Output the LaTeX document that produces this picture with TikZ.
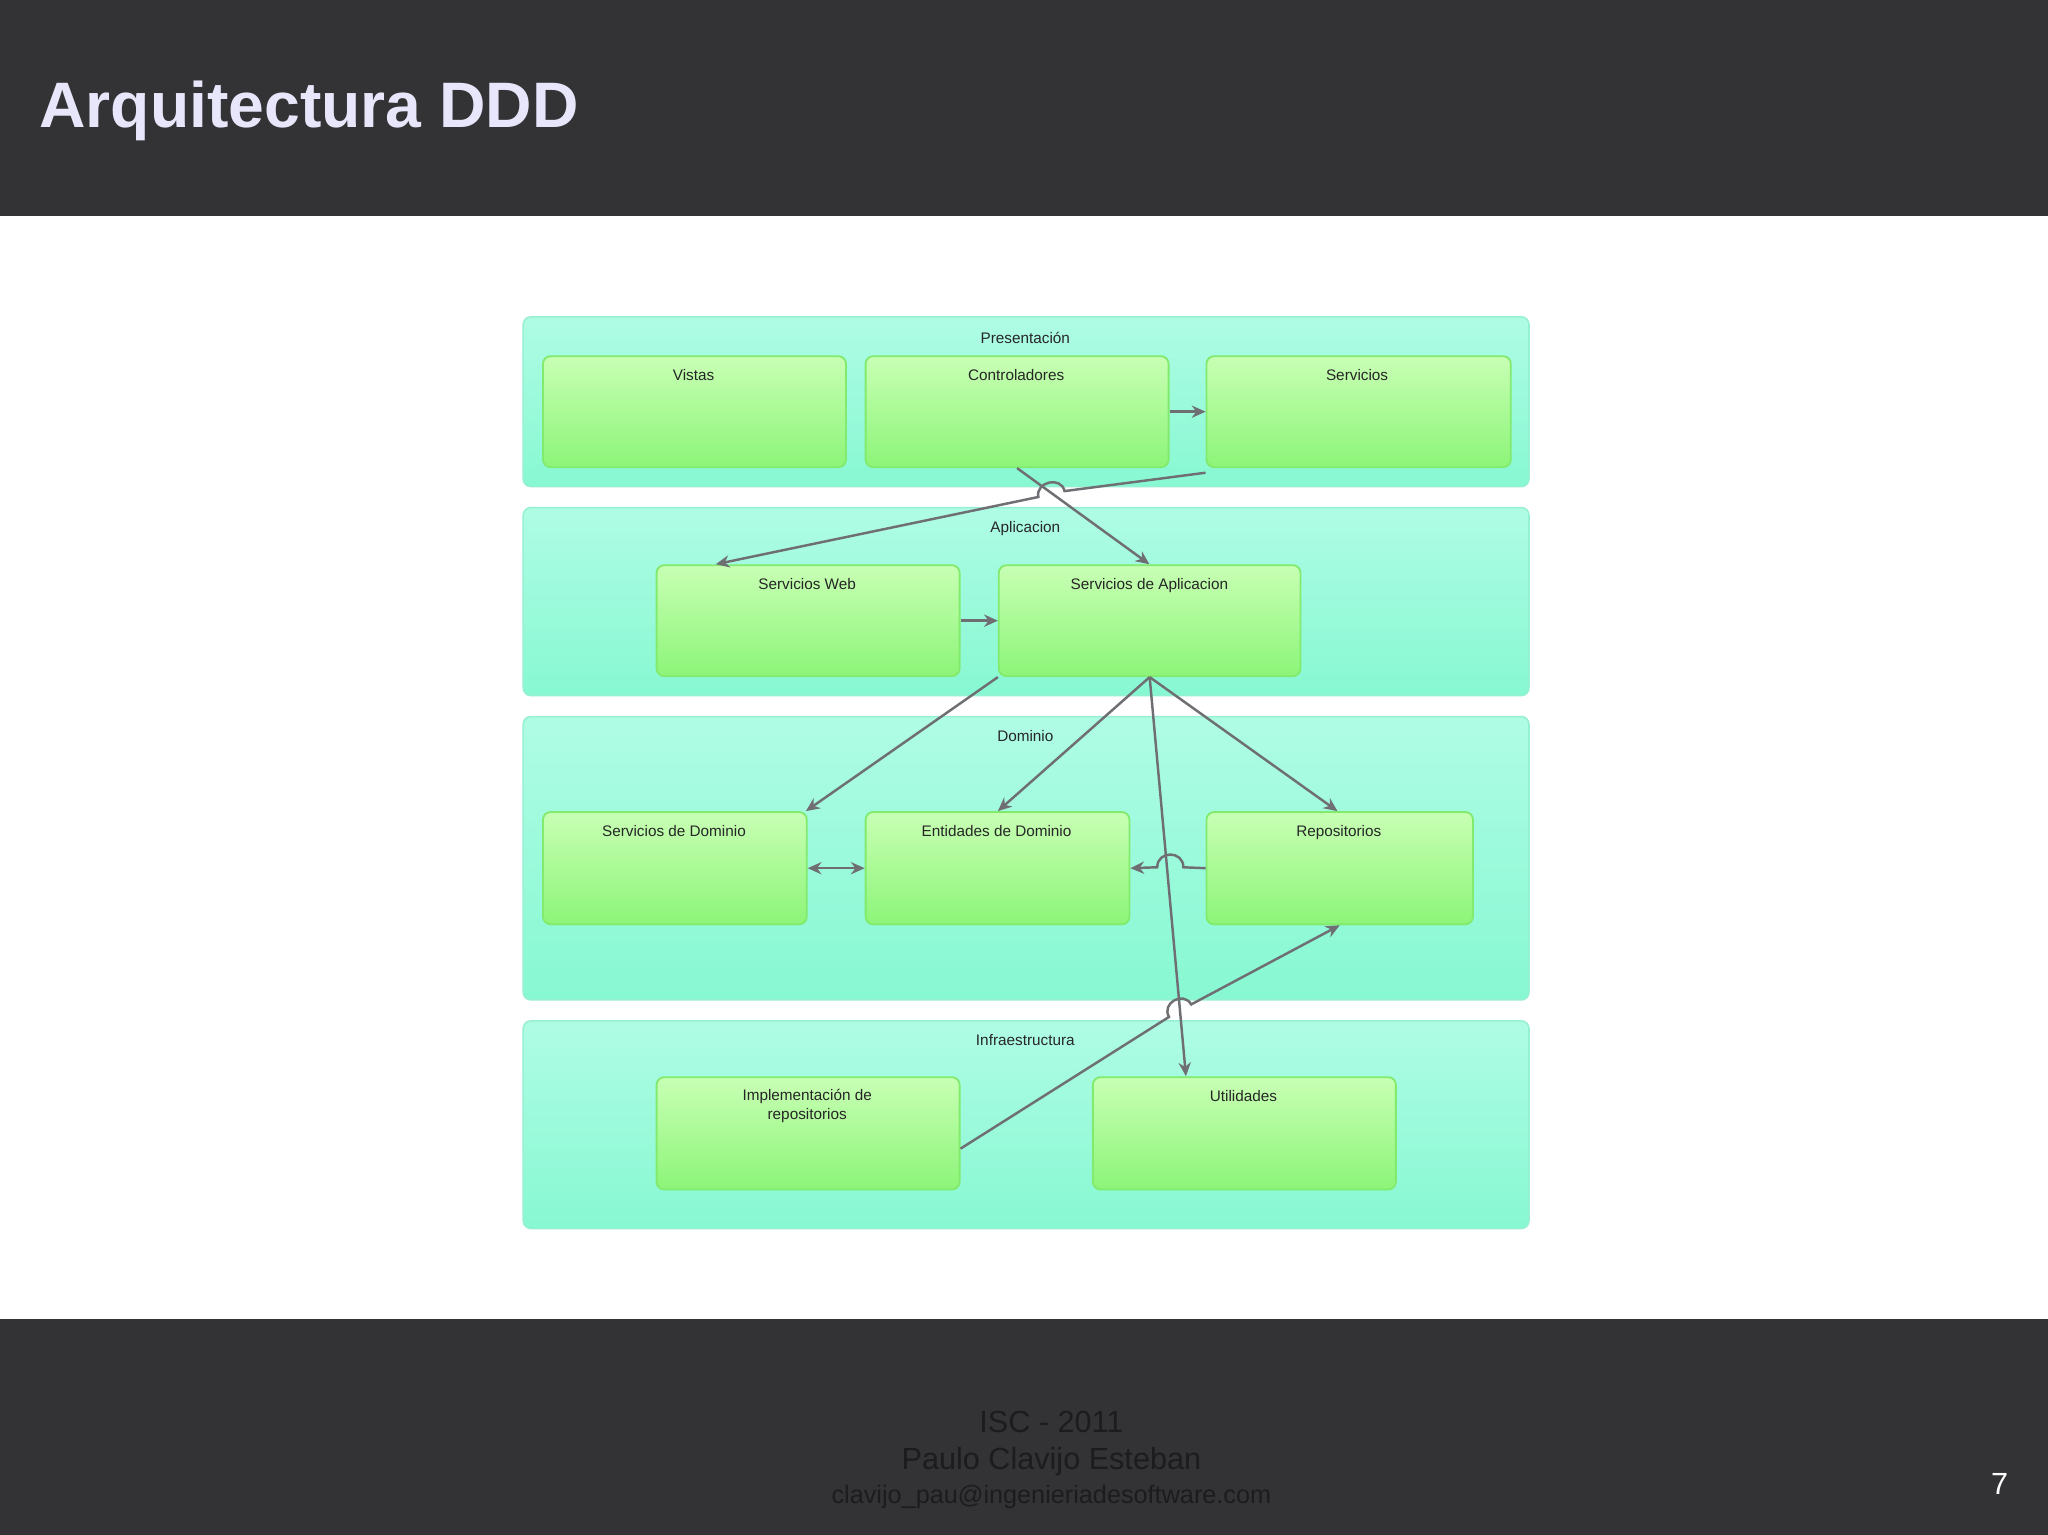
\documentclass[tikz,border=0pt]{standalone}
\usepackage{fontspec}
\setmainfont{Liberation Sans}
\usetikzlibrary{arrows.meta}
\definecolor{bar}{RGB}{51,50,52}
\definecolor{ttl}{RGB}{232,230,250}
\definecolor{ftr}{RGB}{28,28,30}
\definecolor{conn}{RGB}{110,110,115}
\tikzset{
  layer/.style={draw=aqb,line width=1pt,rounded corners=5pt,top color=aqt,bottom color=aqd,anchor=north west,inner sep=0pt},
  gbox/.style={draw=gbd,line width=1.2pt,rounded corners=5pt,top color=gtop,bottom color=gbot,anchor=north west,inner sep=0pt},
  lbl/.style={font=\fontsize{10}{11}\selectfont,text=black!85,anchor=north,align=center},
  con/.style={draw=conn,line width=1.6pt,-{Stealth[length=9pt,width=8pt]}},
}
\definecolor{aqt}{RGB}{175,252,228}
\definecolor{aqd}{RGB}{135,248,210}
\definecolor{aqb}{RGB}{150,240,210}
\definecolor{gtop}{RGB}{200,255,180}
\definecolor{gbot}{RGB}{140,245,120}
\definecolor{gbd}{RGB}{130,235,110}
\begin{document}
\begin{tikzpicture}[x=0.03cm,y=-0.03cm]
\useasboundingbox (0,0) rectangle (1568,1175);
\fill[white] (0,0) rectangle (1568,1175);
\fill[bar] (0,0) rectangle (1568,165);
\fill[bar] (0,1010) rectangle (1568,1175);
\node[anchor=west,text=ttl,font=\bfseries\fontsize{42}{46}\selectfont] (title) at (26,85) {Arquitectura DDD};
\node[text=ftr,font=\fontsize{20}{22}\selectfont] (f1) at (805,1089) {ISC - 2011};
\node[text=ftr,font=\fontsize{20}{22}\selectfont] (f2) at (805,1119) {Paulo Clavijo Esteban};
\node[text=ftr,font=\fontsize{16.5}{18}\selectfont] (f3) at (805,1146) {clavijo\_pau@ingenieriadesoftware.com};
\node[text=white,font=\fontsize{20}{22}\selectfont] (pg) at (1531,1136) {7};
% layers
\node[layer,minimum width=23.1cm,minimum height=3.9cm] (L1) at (400,242) {};
\node[layer,minimum width=23.1cm,minimum height=4.32cm] (L2) at (400,388) {};
\node[layer,minimum width=23.1cm,minimum height=6.51cm] (L3) at (400,548) {};
\node[layer,minimum width=23.1cm,minimum height=4.77cm] (L4) at (400,781) {};
\node[lbl] (t1) at (785,250) {Presentación};
\node[lbl] (t2) at (785,395) {Aplicacion};
\node[lbl] (t3) at (785,555) {Dominio};
\node[lbl] (t4) at (785,788) {Infraestructura};
% boxes
\node[gbox,minimum width=6.96cm,minimum height=2.55cm] (vis) at (415,272) {};
\node[gbox,minimum width=6.96cm,minimum height=2.55cm] (ctl) at (662,272) {};
\node[gbox,minimum width=6.99cm,minimum height=2.55cm] (ser) at (923,272) {};
\node[gbox,minimum width=6.96cm,minimum height=2.55cm] (sw) at (502,432) {};
\node[gbox,minimum width=6.93cm,minimum height=2.55cm] (sa) at (764,432) {};
\node[gbox,minimum width=6.06cm,minimum height=2.58cm] (sd) at (415,621) {};
\node[gbox,minimum width=6.06cm,minimum height=2.58cm] (ed) at (662,621) {};
\node[gbox,minimum width=6.12cm,minimum height=2.58cm] (rep) at (923,621) {};
\node[gbox,minimum width=6.96cm,minimum height=2.58cm] (imp) at (502,824) {};
\node[gbox,minimum width=6.96cm,minimum height=2.58cm] (ut) at (836,824) {};
\node[lbl] (tv) at (531,279) {Vistas};
\node[lbl] (tc) at (778,279) {Controladores};
\node[lbl] (ts) at (1039,279) {Servicios};
\node[lbl] (tsw) at (618,439) {Servicios Web};
\node[lbl] (tsa) at (880,439) {Servicios de Aplicacion};
\node[lbl] (tsd) at (516,628) {Servicios de Dominio};
\node[lbl] (ted) at (763,628) {Entidades de Dominio};
\node[lbl] (tr) at (1025,628) {Repositorios};
\node[lbl,font=\fontsize{10}{12}\selectfont] (ti) at (618,830) {Implementación de\\repositorios};
\node[lbl] (tu) at (952,831) {Utilidades};
% connectors
\draw[con] (ctl.east) -- (ser.west);
\draw[con] (ctl.south) -- (880,432);
\draw[con] (ser.south west) ++(0,-3pt) -- (815,376) .. controls (812.6,364.3) and (792.6,368.8) .. (795,380.5) -- (548,432);
\draw[con] (sw.east) -- (sa.west);
\draw[con] (sa.south west) -- (617,621);
\draw[con] (sa.south) -- (764,621);
\draw[con] (sa.south) -- (1024,621);
\draw[con] (sa.south) -- (908,824);
\draw[con,{Stealth[length=9pt,width=8pt]}-{Stealth[length=9pt,width=8pt]}] (sd.east) -- (ed.west);
\draw[con] (rep.west) -- (906,664) .. controls (906,651) and (886,651) .. (886,664) -- (ed.east);
\draw[con] (imp.east) ++(0,-10pt) -- (895,778.6) .. controls (889,768) and (906,758.5) .. (912,769) -- (rep.south);
\end{tikzpicture}
\end{document}
